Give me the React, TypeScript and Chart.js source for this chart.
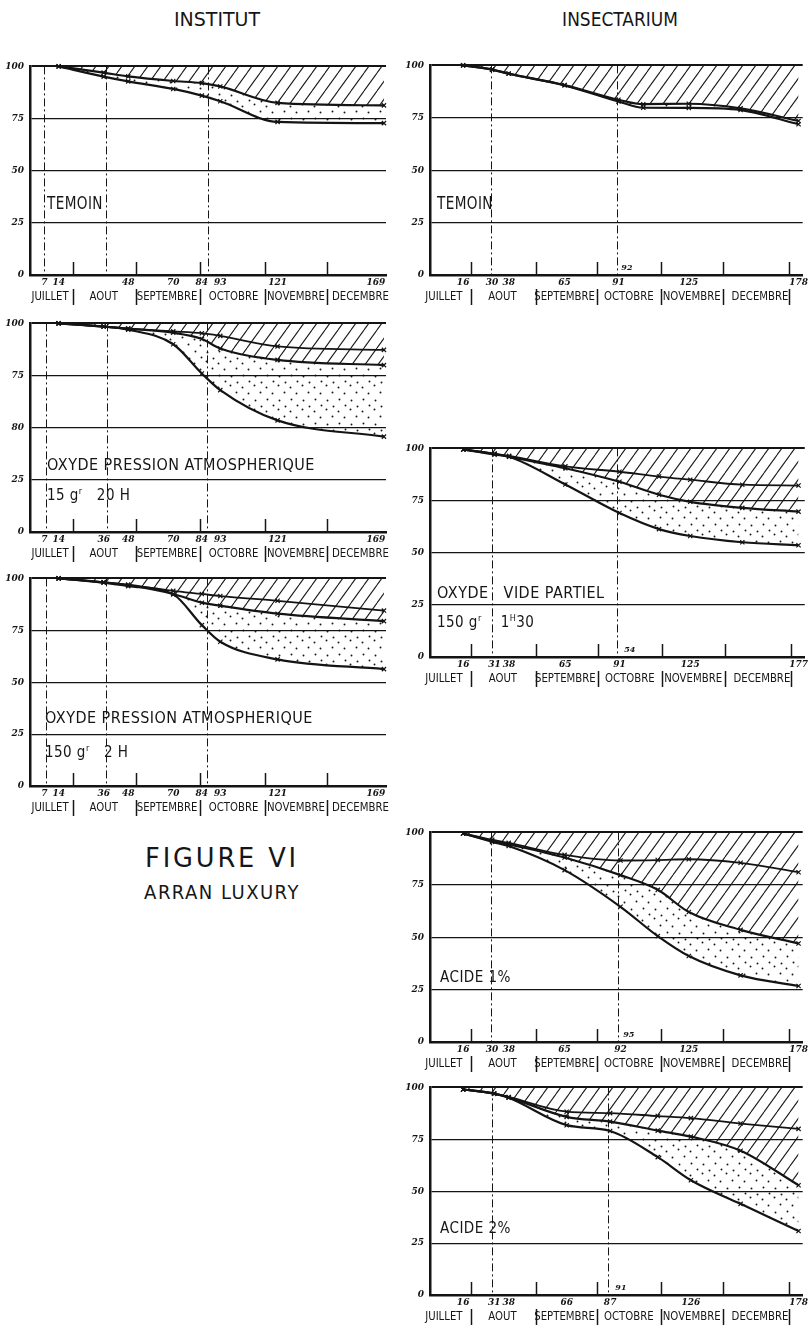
import React, { useEffect, useRef } from "react";
import { Chart, registerables } from "chart.js";

Chart.register(...registerables);

// ---------------- shared axis labels ----------------
const MONTHS = ["JUILLET", "AOUT", "SEPTEMBRE", "OCTOBRE", "NOVEMBRE", "DECEMBRE"];
const Y_TICK_VALUES = [0, 25, 50, 75, 100];
const Y_LABELS = ["0", "25", "50", "75", "100"];
const Y_LABELS_ALT = ["0", "25", "80", "75", "100"];

const LEFT_MONTH_BOUNDS = [21, 52, 83, 115, 145];
const LEFT_MONTH_CENTERS = [9.8, 36, 67, 99.5, 130, 161.5];
const RIGHT_MONTH_BOUNDS = [19.6, 51, 80.5, 111.6, 141.6, 173.2];
const RIGHT_MONTH_CENTERS = [6.7, 35, 65, 96, 126.4, 159.4];

// ---------------- INSTITUT : TEMOIN ----------------
const L1_DAYS = [14, 36, 48, 70, 84, 93, 121, 173];
const L1_UPPER = [100, 97, 95.2, 93, 92, 90.4, 82.5, 81.3];
const L1_LOWER = [100, 95.1, 92.8, 89.2, 86, 83.3, 73.4, 72.8];
const L1_DAY_LABELS = [7, 14, 48, 70, 84, 93, 121, 169];
const L1_DASHED = [7, 37, 87];

// ---------------- INSTITUT : OXYDE 15 gr 20 H ----------------
const L2_DAYS = [14, 36, 48, 70, 84, 93, 121, 173];
const L2_A = [100, 98.5, 97.5, 96.2, 95.3, 94, 89, 87.3];
const L2_B = [100, 98.5, 97.5, 95.5, 92.5, 88, 82.5, 80];
const L2_C = [100, 98.5, 97, 90, 76, 68, 53.5, 45.7];
const L2_DAY_LABELS = [7, 14, 36, 48, 70, 84, 93, 121, 169];
const L2_DASHED = [7.8, 37.5, 86.7];

// ---------------- INSTITUT : OXYDE 150 gr 2 H ----------------
const L3_DAYS = [14, 36, 48, 70, 84, 93, 121, 173];
const L3_A = [100, 98.2, 97, 94, 92.5, 91.5, 89.2, 84.5];
const L3_B = [100, 98, 96.7, 92.5, 88.3, 86.8, 83, 79.4];
const L3_C = [100, 98, 96.3, 92.3, 77.5, 69.5, 61, 56.3];
const L3_DAY_LABELS = [7, 14, 36, 48, 70, 84, 93, 121, 169];
const L3_DASHED = [7.8, 37, 86.7];

// ---------------- INSECTARIUM : TEMOIN ----------------
const R1_DAYS = [16, 30, 38, 65, 91, 103, 125, 150, 178];
const R1_UPPER = [100, 98, 96.1, 90.6, 83.6, 81.5, 81.7, 79.5, 73.5];
const R1_LOWER = [100, 98, 96, 90.5, 82.8, 79.8, 79.7, 78.7, 71.9];
const R1_DAY_LABELS = [16, 30, 38, 65, 91, 125, 178];
const R1_DASHED = [29.5, 90.5];

// ---------------- INSECTARIUM : OXYDE VIDE PARTIEL ----------------
const R2_DAYS = [16, 31, 38, 65, 91, 110, 125, 150, 177];
const R2_A = [99.5, 97.5, 96.4, 91.4, 88.8, 86.5, 85, 82.6, 82.2];
const R2_B = [99.5, 97.3, 96, 90.5, 84, 77.8, 74.4, 71.5, 69.7];
const R2_C = [99.5, 97, 96, 82.7, 69, 61.3, 58, 55, 53.6];
const R2_DAY_LABELS = [16, 31, 38, 65, 91, 125, 177];
const R2_DASHED = [30, 90];

// ---------------- INSECTARIUM : ACIDE 1% ----------------
const R3_DAYS = [16, 30, 38, 65, 92, 110, 125, 150, 178];
const R3_A = [99.5, 96.5, 95, 89.3, 86.6, 86.8, 87.2, 85.5, 81];
const R3_B = [99.5, 96, 94.3, 88, 79.6, 72.6, 62, 53.5, 47];
const R3_C = [99.5, 95.5, 93.5, 82, 64.5, 50.5, 41, 31.8, 26.7];
const R3_DAY_LABELS = [16, 30, 38, 65, 92, 125, 178];
const R3_DASHED = [29.5, 91];

// ---------------- INSECTARIUM : ACIDE 2% ----------------
const R4_DAYS = [16, 31, 38, 66, 87, 110, 126, 150, 178];
const R4_A = [99, 97, 95.4, 88.3, 87.6, 86.2, 85.2, 82.6, 80];
const R4_B = [99, 97, 95.2, 85.8, 83.5, 79.2, 76.3, 69.5, 52.9];
const R4_C = [99, 97, 95, 81.8, 79, 66.4, 55.3, 43.9, 30.8];
const R4_DAY_LABELS = [16, 31, 38, 66, 87, 126, 178];
const R4_DASHED = [30, 86];

// ---------------- layout ----------------
const AXIS_W = 30;
const AXIS_H = 32;
const PAD_T = 8;
const LETTER = '"DejaVu Sans", "Liberation Sans", sans-serif';
const NUM_FONT = '"DejaVu Serif", "Liberation Serif", serif';

type Panel = {
  id: string;
  left: number;
  top: number;
  plotW: number;
  plotH: number;
  padR: number;
  xMax: number;
  days: number[];
  curves: number[][];
  dayLabels: number[];
  yLabels: string[];
  monthBounds: number[];
  monthCenters: number[];
  dashed: number[];
  inner?: { text: string; day: number };
};

const LEFT_GEO = { left: 30, plotW: 356, padR: 14, xMax: 174, monthBounds: LEFT_MONTH_BOUNDS, monthCenters: LEFT_MONTH_CENTERS };
const RIGHT_GEO = { left: 430, plotW: 376, padR: 4, xMax: 180, monthBounds: RIGHT_MONTH_BOUNDS, monthCenters: RIGHT_MONTH_CENTERS };

const PANELS: Panel[] = [
  { id: "L1", ...LEFT_GEO, top: 63, plotH: 212, days: L1_DAYS, curves: [L1_UPPER, L1_LOWER], dayLabels: L1_DAY_LABELS, yLabels: Y_LABELS, dashed: L1_DASHED },
  { id: "L2", ...LEFT_GEO, top: 320, plotH: 212, days: L2_DAYS, curves: [L2_A, L2_B, L2_C], dayLabels: L2_DAY_LABELS, yLabels: Y_LABELS_ALT, dashed: L2_DASHED },
  { id: "L3", ...LEFT_GEO, top: 575, plotH: 211, days: L3_DAYS, curves: [L3_A, L3_B, L3_C], dayLabels: L3_DAY_LABELS, yLabels: Y_LABELS, dashed: L3_DASHED },
  { id: "R1", ...RIGHT_GEO, top: 62, plotH: 213, days: R1_DAYS, curves: [R1_UPPER, R1_LOWER], dayLabels: R1_DAY_LABELS, yLabels: Y_LABELS, dashed: R1_DASHED, inner: { text: "92", day: 92.4 } },
  { id: "R2", ...RIGHT_GEO, top: 445, plotH: 212, days: R2_DAYS, curves: [R2_A, R2_B, R2_C], dayLabels: R2_DAY_LABELS, yLabels: Y_LABELS, dashed: R2_DASHED, inner: { text: "54", day: 93.3 } },
  { id: "R3", ...RIGHT_GEO, top: 829, plotH: 213, days: R3_DAYS, curves: [R3_A, R3_B, R3_C], dayLabels: R3_DAY_LABELS, yLabels: Y_LABELS, dashed: R3_DASHED, inner: { text: "95", day: 93.3 } },
  { id: "R4", ...RIGHT_GEO, top: 1084, plotH: 211, days: R4_DAYS, curves: [R4_A, R4_B, R4_C], dayLabels: R4_DAY_LABELS, yLabels: Y_LABELS, dashed: R4_DASHED, inner: { text: "91", day: 89.5 } },
];

// ---------------- patterns ----------------
let hatchCache: CanvasPattern | null = null;
let dotCache: CanvasPattern | null = null;

function hatchPattern(): CanvasPattern | string {
  if (hatchCache) return hatchCache;
  const c = document.createElement("canvas");
  c.width = 13;
  c.height = 18;
  const g = c.getContext("2d");
  if (!g) return "rgba(0,0,0,0.2)";
  g.strokeStyle = "#161616";
  g.lineWidth = 1.1;
  for (const off of [-13, 0, 13]) {
    g.beginPath();
    g.moveTo(off, 18);
    g.lineTo(off + 13, 0);
    g.stroke();
  }
  hatchCache = g.createPattern(c, "repeat");
  return hatchCache || "rgba(0,0,0,0.2)";
}

const DOT_SPOTS = [
  [2, 3], [14, 1], [8, 9], [20, 8], [3, 15], [15, 16], [9, 21], [21, 22],
];

function dotPattern(): CanvasPattern | string {
  if (dotCache) return dotCache;
  const c = document.createElement("canvas");
  c.width = 24;
  c.height = 24;
  const g = c.getContext("2d");
  if (!g) return "rgba(0,0,0,0.1)";
  g.fillStyle = "#161616";
  for (const [x, y] of DOT_SPOTS) {
    g.beginPath();
    g.arc(x + 0.5, y + 0.5, 0.95, 0, Math.PI * 2);
    g.fill();
  }
  dotCache = g.createPattern(c, "repeat");
  return dotCache || "rgba(0,0,0,0.1)";
}

// ---------------- decoration plugin ----------------
const decorPlugin = {
  id: "decor",
  afterDatasetsDraw(chart: any, _args: any, opts: any) {
    const { ctx, chartArea: ca } = chart;
    const x = chart.scales.x;
    ctx.save();
    ctx.strokeStyle = "#161616";
    ctx.fillStyle = "#161616";
    // dash-dot verticals
    ctx.lineWidth = 1;
    ctx.setLineDash([8, 3, 2, 3]);
    for (const d of opts.dashed) {
      const px = Math.round(x.getPixelForValue(d)) + 0.5;
      ctx.beginPath();
      ctx.moveTo(px, ca.top);
      ctx.lineTo(px, ca.bottom);
      ctx.stroke();
    }
    ctx.setLineDash([]);
    // month boundary ticks inside the plot + separators in the month row
    ctx.lineWidth = 1.5;
    for (const d of opts.bounds) {
      const px = Math.round(x.getPixelForValue(d)) + 0.5;
      ctx.beginPath();
      ctx.moveTo(px, ca.bottom);
      ctx.lineTo(px, ca.bottom - 13);
      ctx.stroke();
      ctx.beginPath();
      ctx.moveTo(px, ca.bottom + 14);
      ctx.lineTo(px, ca.bottom + 30);
      ctx.stroke();
    }
    // month labels
    ctx.font = `13px ${LETTER}`;
    ctx.textAlign = "center";
    ctx.textBaseline = "middle";
    opts.centers.forEach((d: number, i: number) => {
      const px = x.getPixelForValue(d);
      ctx.save();
      ctx.translate(px, ca.bottom + 22);
      ctx.scale(0.78, 1);
      ctx.fillText(MONTHS[i], 0, 0);
      ctx.restore();
    });
    // small inner number
    if (opts.inner) {
      ctx.font = `italic bold 8px ${NUM_FONT}`;
      ctx.textAlign = "left";
      ctx.fillText(opts.inner.text, x.getPixelForValue(opts.inner.day), ca.bottom - 7);
    }
    ctx.restore();
  },
};

function buildConfig(p: Panel): any {
  const n = p.curves.length;
  const datasets = p.curves.map((vals, i) => ({
    data: p.days.map((d, j) => ({ x: d, y: vals[j] })),
    borderColor: "#141414",
    borderWidth: i === 0 && n === 3 ? 1.8 : 2.2,
    pointStyle: "crossRot",
    pointRadius: 3,
    pointBorderWidth: 1.2,
    pointBorderColor: "#141414",
    pointBackgroundColor: "#141414",
    cubicInterpolationMode: "monotone",
    fill: i === n - 2 ? { value: 100 } : i === n - 1 ? "-1" : false,
    backgroundColor: i === n - 2 ? hatchPattern() : i === n - 1 ? dotPattern() : "transparent",
    clip: 6,
  }));
  const numFont = { family: NUM_FONT, size: 9, style: "italic" as const, weight: "bold" as const };
  return {
    type: "line",
    data: { datasets },
    plugins: [decorPlugin],
    options: {
      animation: false,
      responsive: false,
      devicePixelRatio: 1,
      events: [],
      layout: { padding: { top: PAD_T, right: p.padR, left: 0, bottom: 0 } },
      plugins: {
        legend: { display: false },
        tooltip: { enabled: false },
        decor: {
          dashed: p.dashed,
          bounds: p.monthBounds,
          centers: p.monthCenters,
          inner: p.inner,
        },
      },
      scales: {
        x: {
          type: "linear",
          min: 0,
          max: p.xMax,
          afterBuildTicks: (ax: any) => {
            ax.ticks = p.dayLabels.map((v) => ({ value: v }));
          },
          afterFit: (ax: any) => {
            ax.height = AXIS_H;
          },
          grid: { display: false, drawTicks: false },
          border: { display: true, color: "#141414", width: 2.5 },
          ticks: {
            autoSkip: false,
            maxRotation: 0,
            padding: 2,
            color: "#141414",
            font: numFont,
            callback: (v: any) => String(v),
          },
        },
        y: {
          type: "linear",
          min: 0,
          max: 100,
          afterBuildTicks: (ax: any) => {
            ax.ticks = Y_TICK_VALUES.map((v) => ({ value: v }));
          },
          afterFit: (ax: any) => {
            ax.width = AXIS_W;
          },
          grid: {
            color: "#141414",
            lineWidth: (c: any) => (c.tick && c.tick.value === 100 ? 2 : 1.2),
            drawTicks: false,
          },
          border: { display: true, color: "#141414", width: 2.5 },
          ticks: {
            padding: 6,
            color: "#141414",
            font: numFont,
            callback: (_v: any, i: number) => p.yLabels[i],
          },
        },
      },
    },
  };
}

function PanelChart({ p }: { p: Panel }) {
  const ref = useRef<HTMLCanvasElement | null>(null);
  const w = p.plotW + AXIS_W + p.padR;
  const h = p.plotH + PAD_T + AXIS_H;
  useEffect(() => {
    if (!ref.current) return;
    const chart = new Chart(ref.current, buildConfig(p));
    return () => chart.destroy();
  }, [p]);
  return (
    <canvas
      ref={ref}
      width={w}
      height={h}
      style={{ position: "absolute", left: p.left - AXIS_W, top: p.top - PAD_T, width: w, height: h }}
    />
  );
}

type Txt = { x: number; y: number; size: number; sx: number; center?: boolean; ls?: number; node: React.ReactNode };

const TEXTS: Txt[] = [
  { x: 217, y: 19, size: 20, sx: 0.95, center: true, ls: 0, node: "INSTITUT" },
  { x: 620, y: 19, size: 20, sx: 0.85, center: true, ls: 0, node: "INSECTARIUM" },
  { x: 47, y: 203, size: 17, sx: 0.8, node: "TEMOIN" },
  { x: 437, y: 203, size: 17, sx: 0.8, node: "TEMOIN" },
  { x: 47, y: 465, size: 16, sx: 0.9, node: "OXYDE PRESSION ATMOSPHERIQUE" },
  { x: 47, y: 495, size: 15, sx: 0.9, node: <>15 g<sup style={{ fontSize: 9 }}>r</sup>{"   "}20 H</> },
  { x: 45, y: 718, size: 16, sx: 0.9, node: "OXYDE PRESSION ATMOSPHERIQUE" },
  { x: 45, y: 752, size: 15, sx: 0.9, node: <>150 g<sup style={{ fontSize: 9 }}>r</sup>{"   "}2 H</> },
  { x: 437, y: 593, size: 16, sx: 0.9, node: "OXYDE   VIDE PARTIEL" },
  { x: 437, y: 622, size: 15, sx: 0.9, node: <>150 g<sup style={{ fontSize: 9 }}>r</sup>{"    "}1<sup style={{ fontSize: 9 }}>H</sup>30</> },
  { x: 440, y: 977, size: 16, sx: 0.85, node: "ACIDE 1%" },
  { x: 440, y: 1228, size: 16, sx: 0.85, node: "ACIDE 2%" },
  { x: 222, y: 857, size: 27, sx: 0.95, center: true, ls: 3, node: "FIGURE VI" },
  { x: 222, y: 892, size: 19, sx: 0.95, center: true, ls: 1.5, node: "ARRAN LUXURY" },
];

export default function App() {
  return (
    <div
      style={{
        position: "absolute",
        left: 0,
        top: 0,
        width: 810,
        height: 1331,
        background: "#fff",
        overflow: "hidden",
        fontFamily: LETTER,
        color: "#161616",
      }}
    >
      {PANELS.map((p) => (
        <PanelChart key={p.id} p={p} />
      ))}
      {TEXTS.map((t, i) => (
        <div
          key={i}
          style={{
            position: "absolute",
            left: t.x,
            top: t.y,
            fontSize: t.size,
            lineHeight: 1,
            whiteSpace: "pre",
            fontWeight: 400,
            letterSpacing: t.ls ?? 0.5,
            transform: t.center ? `translate(-50%, -50%) scaleX(${t.sx})` : `translateY(-50%) scaleX(${t.sx})`,
            transformOrigin: t.center ? "center center" : "left center",
          }}
        >
          {t.node}
        </div>
      ))}
    </div>
  );
}
